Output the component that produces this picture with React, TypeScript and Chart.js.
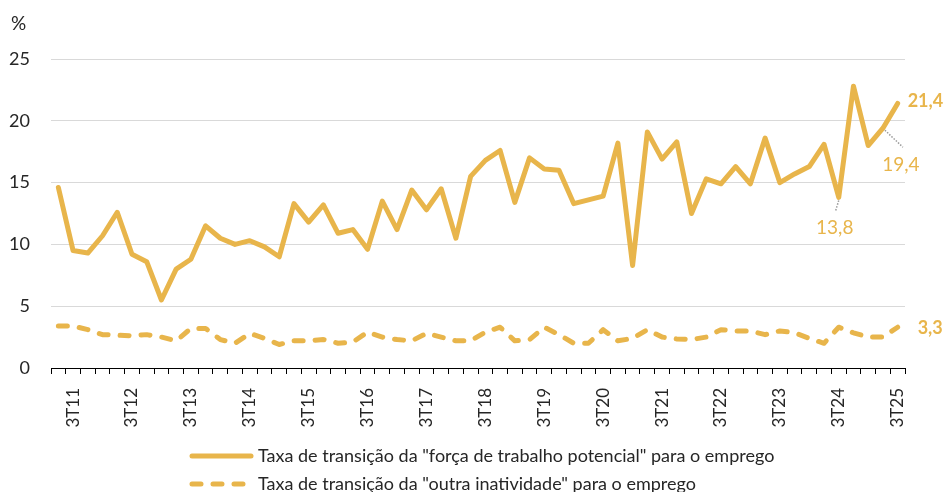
import { useEffect, useRef } from 'react';
import { Chart, registerables } from 'chart.js';
Chart.register(...registerables);

const categories = [
  '2T11', '3T11', '4T11', '1T12', '2T12', '3T12', '4T12', '1T13', '2T13', '3T13', '4T13', '1T14', '2T14', '3T14', '4T14',
  '1T15', '2T15', '3T15', '4T15', '1T16', '2T16', '3T16', '4T16', '1T17', '2T17', '3T17', '4T17', '1T18', '2T18', '3T18',
  '4T18', '1T19', '2T19', '3T19', '4T19', '1T20', '2T20', '3T20', '4T20', '1T21', '2T21', '3T21', '4T21', '1T22', '2T22',
  '3T22', '4T22', '1T23', '2T23', '3T23', '4T23', '1T24', '2T24', '3T24', '4T24', '1T25', '2T25', '3T25',
];

const potencial = [
  14.6, 9.5, 9.3, 10.7, 12.6, 9.2, 8.6, 5.5, 8.0, 8.8, 11.5, 10.5, 10.0, 10.3, 9.8, 9.0, 13.3, 11.8, 13.2, 10.9,
  11.2, 9.6, 13.5, 11.2, 14.4, 12.8, 14.5, 10.5, 15.5, 16.8, 17.6, 13.4, 17.0, 16.1, 16.0, 13.3, 13.6, 13.9, 18.2, 8.3,
  19.1, 16.9, 18.3, 12.5, 15.3, 14.9, 16.3, 14.9, 18.6, 15.0, 15.7, 16.3, 18.1, 13.8, 22.8, 18.0, 19.4, 21.4,
];

const outra = [
  3.4, 3.4, 3.1, 2.7, 2.65, 2.6, 2.7, 2.5, 2.2, 3.2, 3.2, 2.3, 2.0, 2.8, 2.4, 1.9, 2.2, 2.2, 2.3, 2.0,
  2.1, 2.9, 2.5, 2.3, 2.2, 2.8, 2.5, 2.2, 2.2, 2.9, 3.3, 2.2, 2.3, 3.3, 2.7, 2.0, 2.0, 3.1, 2.2, 2.4,
  3.1, 2.5, 2.35, 2.3, 2.5, 3.1, 3.0, 3.0, 2.7, 3.0, 2.85, 2.4, 2.0, 3.3, 2.85, 2.5, 2.5, 3.3,
];

const seriesNames = [
  'Taxa de transição da "força de trabalho potencial" para o emprego',
  'Taxa de transição da "outra inatividade" para o emprego',
];

const unitLabel = '%';
const yMin = 0;
const yMax = 25;
const yStep = 5;

const GOLD = '#E8B54B';
const TEXT = '#262626';
const FONT = 'Lato, "Open Sans", sans-serif';

const fmt = (v: number) => v.toFixed(1).replace('.', ',');

export default function App() {
  const ref = useRef<HTMLCanvasElement>(null);

  useEffect(() => {
    const overlay = {
      id: 'overlay',
      afterDraw(chart: any) {
        const ctx = chart.ctx as CanvasRenderingContext2D;
        const xs = chart.scales.x;
        const ys = chart.scales.y;
        const pt = (arr: number[], i: number) => [xs.getPixelForValue(i), ys.getPixelForValue(arr[i])];
        ctx.save();

        // unit label
        ctx.fillStyle = TEXT;
        ctx.font = `19px ${FONT}`;
        ctx.textAlign = 'left';
        ctx.textBaseline = 'middle';
        ctx.fillText(unitLabel, 11, 24);

        const last = potencial.length - 1;
        ctx.fillStyle = GOLD;

        // 21,4 (bold)
        let [px, py] = pt(potencial, last);
        ctx.font = `bold 18px ${FONT}`;
        ctx.textAlign = 'left';
        ctx.fillText(fmt(potencial[last]), px + 10, py - 2);

        // 3,3 (bold)
        [px, py] = pt(outra, last);
        ctx.fillText(fmt(outra[last]), px + 20, py + 1);

        // 19,4 with leader
        ctx.font = `19px ${FONT}`;
        ctx.textAlign = 'center';
        [px, py] = pt(potencial, last - 1);
        ctx.fillText(fmt(potencial[last - 1]), px + 18, py + 37);
        ctx.strokeStyle = '#9a9a9a';
        ctx.lineWidth = 1.5;
        ctx.setLineDash([1.5, 1.5]);
        ctx.beginPath();
        ctx.moveTo(px + 2, py + 2);
        ctx.lineTo(px + 20, py + 19);
        ctx.stroke();

        // 13,8 with leader
        [px, py] = pt(potencial, last - 4);
        ctx.fillText(fmt(potencial[last - 4]), px - 4, py + 30);
        ctx.beginPath();
        ctx.moveTo(px, py + 3);
        ctx.lineTo(px - 3, py + 13);
        ctx.stroke();

        // legend
        ctx.setLineDash([]);
        const rows = [456, 484];
        rows.forEach((ry, k) => {
          ctx.strokeStyle = GOLD;
          ctx.lineWidth = 5;
          ctx.lineCap = 'round';
          ctx.setLineDash(k === 0 ? [] : [9, 12]);
          ctx.beginPath();
          ctx.moveTo(192, ry);
          ctx.lineTo(251, ry);
          ctx.stroke();
          ctx.setLineDash([]);
          ctx.fillStyle = TEXT;
          ctx.font = `18px ${FONT}`;
          ctx.textAlign = 'left';
          ctx.textBaseline = 'middle';
          ctx.fillText(seriesNames[k], 258, ry);
        });

        ctx.restore();
      },
    };

    const chart = new Chart(ref.current as HTMLCanvasElement, {
      type: 'line',
      data: {
        labels: categories,
        datasets: [
          {
            label: seriesNames[0],
            data: potencial,
            borderColor: GOLD,
            backgroundColor: GOLD,
            borderWidth: 5,
            pointRadius: 0,
            tension: 0,
            borderJoinStyle: 'round',
            borderCapStyle: 'round',
          },
          {
            label: seriesNames[1],
            data: outra,
            borderColor: GOLD,
            backgroundColor: GOLD,
            borderWidth: 5,
            borderDash: [9, 12],
            borderCapStyle: 'round',
            borderJoinStyle: 'round',
            pointRadius: 0,
            tension: 0,
          },
        ],
      },
      options: {
        animation: false,
        responsive: false,
        maintainAspectRatio: false,
        layout: { padding: { left: 0, right: 39, top: 59, bottom: 0 } },
        plugins: { legend: { display: false }, tooltip: { enabled: false } },
        scales: {
          x: {
            type: 'category',
            offset: true,
            grid: { offset: true, drawOnChartArea: false, drawTicks: true, tickLength: 6, color: '#000', lineWidth: 1 },
            border: { display: true, color: '#000', width: 1 },
            ticks: {
              autoSkip: false,
              maxRotation: 90,
              minRotation: 90,
              padding: 14,
              color: TEXT,
              font: { family: FONT, size: 17 },
              callback: (_v: any, i: number) => (categories[i].startsWith('3T') ? categories[i] : ''),
            },
            afterFit: (s: any) => {
              s.height = 124;
            },
          },
          y: {
            min: yMin,
            max: yMax,
            grid: { color: '#D9D9D9', drawTicks: false, lineWidth: 1 },
            border: { display: false },
            ticks: { stepSize: yStep, padding: 21, color: TEXT, font: { family: FONT, size: 18 } },
            afterFit: (s: any) => {
              s.width = 51;
            },
          },
        },
      },
      plugins: [overlay],
    } as any);

    return () => chart.destroy();
  }, []);

  return (
    <div style={{ position: 'fixed', left: 0, top: 0, width: 944, height: 492, background: '#fff' }}>
      <canvas ref={ref} width={944} height={492} style={{ display: 'block', width: 944, height: 492 }} />
    </div>
  );
}
